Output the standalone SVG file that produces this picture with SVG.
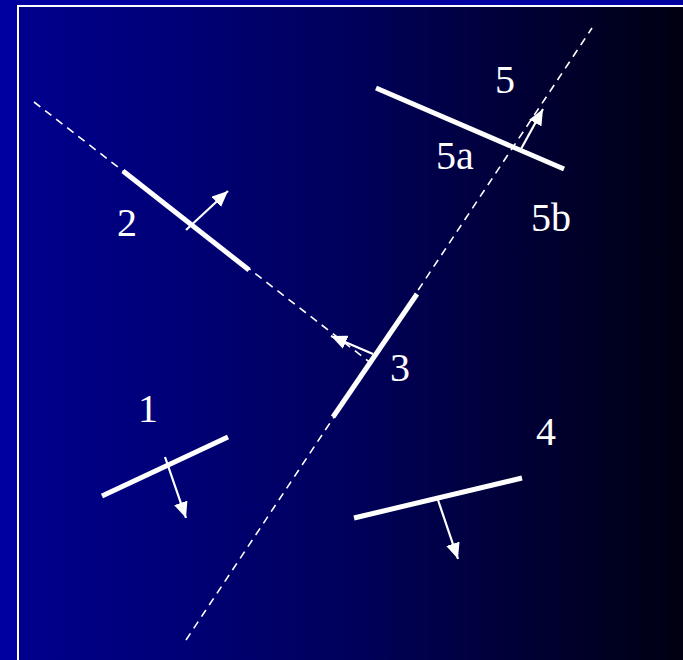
<svg xmlns="http://www.w3.org/2000/svg" width="683" height="660" viewBox="0 0 683 660">
<defs>
<linearGradient id="bg" x1="17" y1="0" x2="683" y2="0" gradientUnits="userSpaceOnUse">
<stop offset="0" stop-color="#00008E"/>
<stop offset="0.5" stop-color="#00005C"/>
<stop offset="1" stop-color="#000012"/>
</linearGradient>
<marker id="ah" markerUnits="userSpaceOnUse" markerWidth="18" markerHeight="14" refX="16" refY="7" orient="auto">
<path d="M0,0 L16,7 L0,14 Z" fill="#fff"/>
</marker>
<style>
.seg{stroke:#fff;stroke-width:5;fill:none}
.dash{stroke:#fff;stroke-width:1.6;stroke-dasharray:8 6;fill:none}
.arr{stroke:#fff;stroke-width:2.2;fill:none;marker-end:url(#ah)}
.lbl{font-family:"Liberation Serif","Times New Roman",serif;font-size:40px;fill:#fff}
</style>
</defs>
<rect x="0" y="0" width="683" height="660" fill="#0000A0"/>
<rect x="18" y="6" width="670" height="660" fill="url(#bg)" stroke="#fff" stroke-width="2"/>
<g id="connectors">
<line class="dash" x1="34" y1="102" x2="372" y2="364"/>
<line class="dash" x1="186" y1="640" x2="592" y2="28"/>
</g>
<g id="node1">
<line class="seg" x1="102" y1="496" x2="228" y2="437"/>
<line class="arr" x1="165" y1="457" x2="186" y2="518"/>
<text class="lbl" x="148" y="422" text-anchor="middle">1</text>
</g>
<g id="node2">
<line class="seg" x1="123" y1="171" x2="249" y2="270"/>
<line class="arr" x1="186" y1="230" x2="228" y2="191"/>
<text class="lbl" x="127" y="236" text-anchor="middle">2</text>
</g>
<g id="node3">
<line class="seg" x1="333" y1="417" x2="417" y2="294"/>
<line class="arr" x1="373" y1="354" x2="331" y2="336"/>
<text class="lbl" x="400" y="381" text-anchor="middle">3</text>
</g>
<g id="node4">
<line class="seg" x1="354" y1="518" x2="522" y2="478"/>
<line class="arr" x1="438" y1="500" x2="458" y2="559"/>
<text class="lbl" x="546" y="445" text-anchor="middle">4</text>
</g>
<g id="node5">
<line class="seg" x1="376" y1="88" x2="564" y2="169"/>
<line class="arr" x1="521" y1="149" x2="543" y2="109"/>
<text class="lbl" x="505" y="93" text-anchor="middle">5</text>
<text class="lbl" x="455" y="169" text-anchor="middle">5a</text>
<text class="lbl" x="551" y="231" text-anchor="middle">5b</text>
</g>
</svg>
